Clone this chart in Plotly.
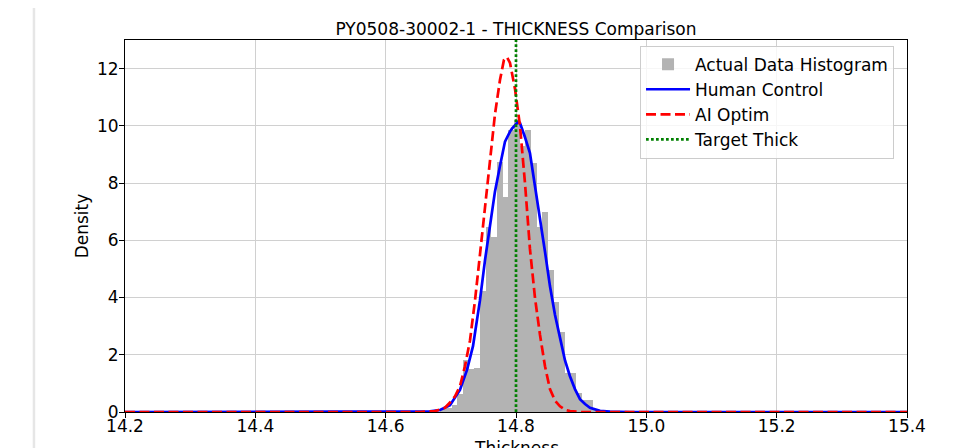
import numpy as np
import plotly.graph_objects as go

# histogram of the measured thickness (density per bin)
bin_start = 14.6839
bin_width = 0.0087
hist_density = [0.12, 0.15, 0.25, 0.62, 1.80, 1.52, 1.55, 4.24, 6.48, 6.13,
                8.72, 7.53, 9.84, 10.20, 9.30, 9.86, 8.70, 6.46, 7.00, 4.96,
                3.85, 2.80, 1.36, 1.36, 0.66, 0.42, 0.42, 0.08]

# fitted density: human control
human_x = [14.2, 14.622, 14.668, 14.6834, 14.6987, 14.714, 14.7248, 14.734,
           14.7447, 14.7524, 14.7601, 14.7677, 14.7754, 14.7831, 14.7908,
           14.7938, 14.8038, 14.8061, 14.8138, 14.8214, 14.8291, 14.8368,
           14.8445, 14.8521, 14.8598, 14.8675, 14.8752, 14.8828, 14.8905,
           14.8982, 14.9059, 14.9135, 14.9289, 14.9442, 14.9749, 15.4]
human_y = [0, 0, 0.02, 0.07, 0.24, 0.77, 1.47, 2.3, 3.9, 5.3, 6.5, 7.7, 8.6,
           9.45, 9.8, 9.9, 10.15, 10.1, 9.6, 9.05, 7.9, 6.8, 5.6, 4.4, 3.4,
           2.6, 1.8, 1.25, 0.8, 0.45, 0.28, 0.15, 0.04, 0.01, 0, 0]

# fitted density: AI optimised
ai_x = [14.2, 14.6527, 14.6757, 14.691, 14.6987, 14.7064, 14.714, 14.7217,
        14.7294, 14.7371, 14.7447, 14.7524, 14.7601, 14.7677, 14.7754,
        14.7815, 14.7861, 14.7908, 14.7984, 14.8061, 14.8138, 14.8214,
        14.8291, 14.8368, 14.8445, 14.8521, 14.8598, 14.8675, 14.8752,
        14.8828, 14.8982, 15.4]
ai_y = [0, 0, 0.03, 0.15, 0.33, 0.55, 0.9, 1.6, 2.5, 3.9, 5.5, 7.1, 8.8, 10.4,
        11.6, 12.3, 12.4, 12.2, 11.3, 10.0, 8.0, 5.7, 4.0, 2.7, 1.6, 0.8, 0.4,
        0.2, 0.08, 0.03, 0, 0]

target_thick = 14.8
x_range = [14.2, 15.4]
y_range = [0, 13.0]
x_ticks = [14.2, 14.4, 14.6, 14.8, 15.0, 15.2, 15.4]
y_ticks = [0, 2, 4, 6, 8, 10, 12]

FONT = "DejaVu Sans"

bin_centers = bin_start + bin_width * (np.arange(len(hist_density)) + 0.5)

fig = go.Figure()
fig.add_trace(go.Bar(
    x=bin_centers, y=hist_density, width=bin_width,
    marker=dict(color="#b3b3b3", line=dict(width=0)),
    name="Actual Data Histogram"
))
fig.add_trace(go.Scatter(
    x=human_x, y=human_y, mode="lines",
    line=dict(color="#0000ff", width=2.7),
    name="Human Control"
))
fig.add_trace(go.Scatter(
    x=ai_x, y=ai_y, mode="lines",
    line=dict(color="#ff0000", width=2.7, dash="10px,4.5px"),
    name="AI Optim"
))
fig.add_trace(go.Scatter(
    x=[target_thick, target_thick], y=y_range, mode="lines",
    line=dict(color="#008000", width=2.7, dash="2.7px,2.3px"),
    name="Target Thick"
))

axis_common = dict(
    showline=True, linecolor="black", linewidth=1, mirror=True,
    ticks="outside", ticklen=5, tickcolor="black",
    showgrid=True, gridcolor="#d0d0d0", gridwidth=1,
    zeroline=False, tickfont=dict(family=FONT, size=17, color="black"),
)

fig.update_xaxes(
    range=x_range, tickvals=x_ticks, ticktext=[f"{t:.1f}" for t in x_ticks],
    ticklabelstandoff=-6,
    automargin=False, **axis_common
)
fig.update_yaxes(
    range=y_range, tickvals=y_ticks, ticklabelstandoff=-3,
    title=dict(text="Density", font=dict(family=FONT, size=17, color="black"), standoff=4),
    automargin=False, **axis_common
)

fig.update_layout(
    width=950, height=440,
    margin=dict(l=117, r=51, t=32, b=36),
    paper_bgcolor="white", plot_bgcolor="white",
    bargap=0,
    title=dict(text="PY0508-30002-1 - THICKNESS Comparison",
               x=(117 + 899) / 2 / 950, xanchor="center",
               y=1 - 21 / 440, yanchor="middle", yref="container",
               font=dict(family=FONT, size=17, color="black")),
    font=dict(family=FONT, size=17, color="black"),
    legend=dict(
        x=0.6586, y=0.985, xanchor="left", yanchor="top",
        itemwidth=44,
        bgcolor="rgba(255,255,255,0.8)", bordercolor="#cccccc", borderwidth=1,
        font=dict(family=FONT, size=17, color="black"),
    ),
    showlegend=True,
    # x-axis title sits below the margin, partly cut off like the original
    annotations=[dict(text="Thickness", xref="paper", yref="paper",
                      x=0.5, y=-0.097, xanchor="center", yanchor="middle",
                      showarrow=False,
                      font=dict(family=FONT, size=17, color="black"))],
    shapes=[dict(type="line", xref="paper", yref="paper",
                 x0=-0.1164, x1=-0.1164, y0=-0.12, y1=1.12,
                 line=dict(color="#e6e6e6", width=2.5))],
)

fig.write_html("out.html")
